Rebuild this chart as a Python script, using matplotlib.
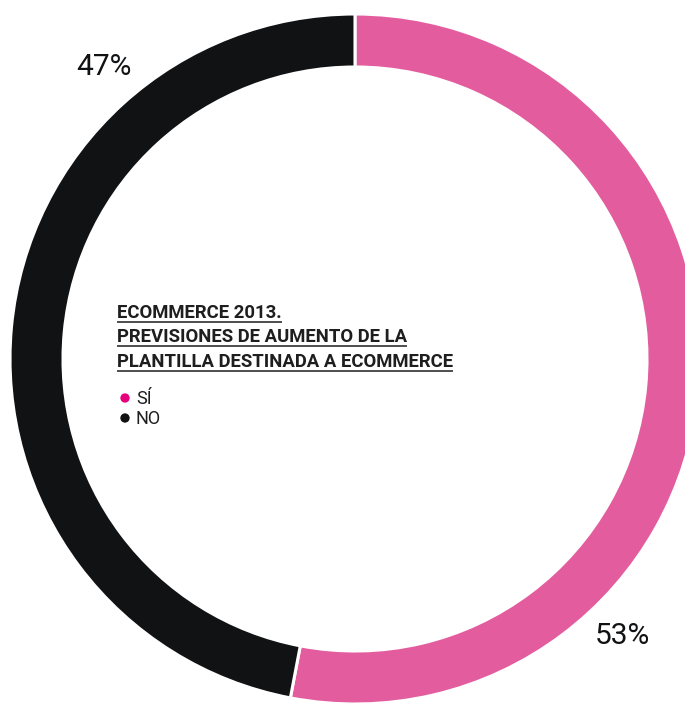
import matplotlib.pyplot as plt

# Previsiones de aumento de plantilla destinada a ecommerce (2013)
categories = ['SÍ', 'NO']
values = [53, 47]
colors = ['#E35D9E', '#111214']
legend_colors = ['#E6007E', '#111214']
title_lines = ['ECOMMERCE 2013.',
               'PREVISIONES DE AUMENTO DE LA',
               'PLANTILLA DESTINADA A ECOMMERCE']

W, H = 685, 707
fig = plt.figure(figsize=(W / 100, H / 100), dpi=100)
ax = fig.add_axes([0, 0, 1, 1])

cx, cy, R = 355, H - 359, 345
ax.pie(values, colors=colors, startangle=90, counterclock=False,
       center=(cx, cy), radius=R,
       wedgeprops=dict(width=53, edgecolor='white', linewidth=2.2))

ax.set_xlim(0, W)
ax.set_ylim(0, H)
ax.set_aspect('equal')
ax.axis('off')

font = 'Roboto'

# porcentajes junto al anillo
ax.text(104, H - 67, f'{values[1]}%', fontsize=21.5, family=font,
        color='#111214', ha='center', va='center')
ax.text(622, H - 636, f'{values[0]}%', fontsize=21.5, family=font,
        color='#111214', ha='center', va='center')

# titulo subrayado
x0 = 117
for i, line in enumerate(title_lines):
    base = 318 + i * 24.3
    t = ax.text(x0, H - base, line, fontsize=13.3, family=font,
                fontweight='bold', color='#1e1e1e', va='baseline', ha='left')
    fig.canvas.draw()
    bb = t.get_window_extent()
    ax.plot([x0, x0 + bb.width], [H - base - 4, H - base - 4],
            color='#1e1e1e', lw=1.1, solid_capstyle='butt')

# leyenda
for i, (name, c) in enumerate(zip(categories, legend_colors)):
    y = 398 + i * 20
    ax.scatter([125], [H - y], s=45, color=c, edgecolors='none')
    ax.text(136, H - y - 1, name, fontsize=13, family=font,
            color='#1e1e1e', va='center', ha='left')

fig.savefig('out.png', dpi=100)
